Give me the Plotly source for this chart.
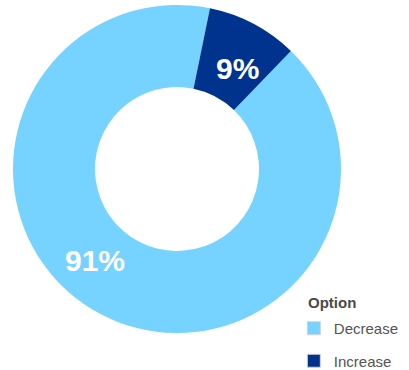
import plotly.graph_objects as go

# Survey answer shares
options = ["Decrease", "Increase"]
shares = [91, 9]
colors = ["#76D2FF", "#00338D"]

# Where each percentage label sits (paper coordinates)
label_x = [0.232, 0.580]
label_y = [0.297, 0.816]

W, H = 409, 370
FONT = "Liberation Sans, Arial, sans-serif"

fig = go.Figure()

fig.add_trace(go.Pie(
    labels=options,
    values=shares,
    hole=0.5,
    sort=False,
    direction="clockwise",
    rotation=44,
    marker=dict(colors=colors, line=dict(width=0)),
    textinfo="none",
    hoverinfo="label+percent",
    showlegend=False,
    domain=dict(x=[13 / W, 341 / W], y=[37 / H, 365 / H]),
))

# Legend entries: one square swatch per option
for name, col in zip(options, colors):
    fig.add_trace(go.Scatter(
        x=[None], y=[None],
        mode="markers",
        name=name,
        legendgroup=name,
        marker=dict(symbol="square", size=13, color=col,
                    line=dict(color="#d2d2d2", width=1)),
    ))

annotations = []
for val, x, y in zip(shares, label_x, label_y):
    annotations.append(dict(
        x=x, y=y, xref="paper", yref="paper",
        text=f"<b>{val}%</b>", showarrow=False,
        font=dict(family=FONT, size=30, color="white"),
        xanchor="center", yanchor="middle",
    ))

# Legend heading
annotations.append(dict(
    x=306 / W, y=(H - 302) / H, xref="paper", yref="paper",
    text="<b>Option</b>", showarrow=False,
    font=dict(family=FONT, size=15, color="#4a4a4a"),
    xanchor="left", yanchor="middle",
))

fig.update_layout(
    width=W, height=H,
    margin=dict(l=0, r=0, t=0, b=0, autoexpand=False),
    paper_bgcolor="white",
    plot_bgcolor="white",
    xaxis=dict(visible=False),
    yaxis=dict(visible=False),
    annotations=annotations,
    legend=dict(
        x=0.738, y=(H - 312) / H, xanchor="left", yanchor="top",
        font=dict(family=FONT, size=15, color="#555555"),
        tracegroupgap=10,
        indentation=-8,
        bgcolor="rgba(0,0,0,0)",
    ),
)

fig.write_html("out.html")
